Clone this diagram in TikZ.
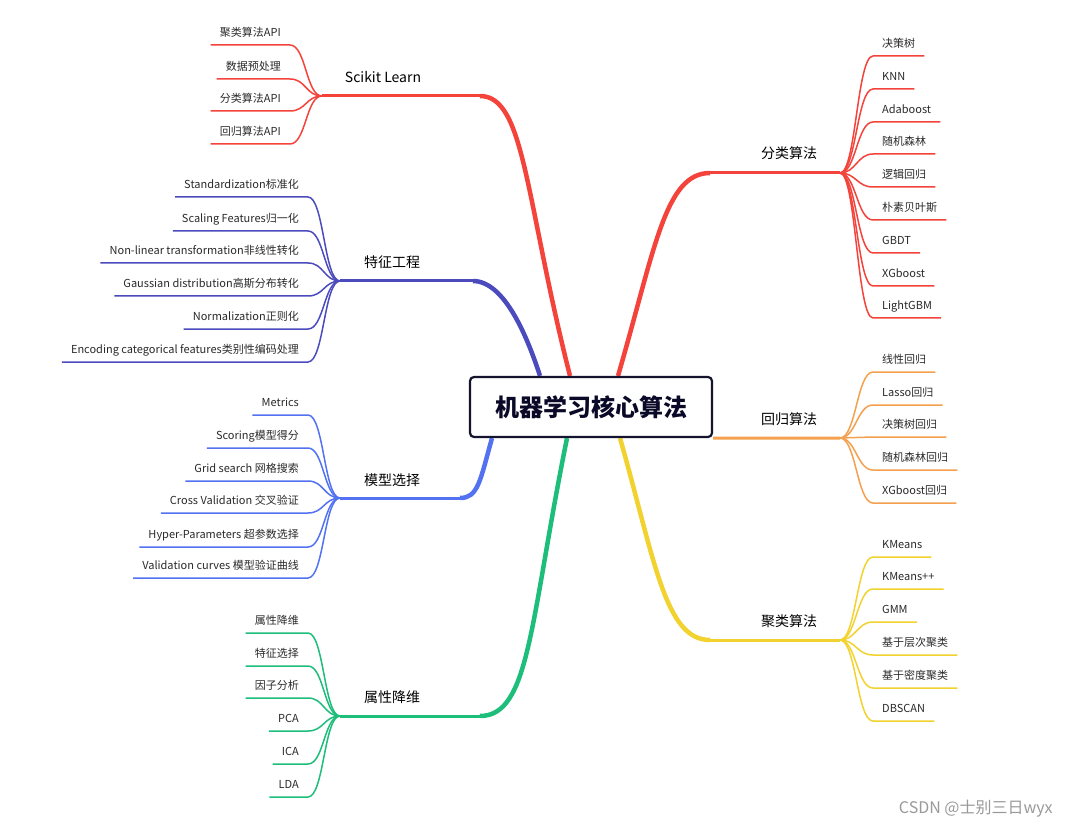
\documentclass[tikz,border=0pt]{standalone}
\usepackage{fontspec}
\setmainfont{Noto Sans CJK SC}
\usetikzlibrary{calc, backgrounds}
\definecolor{rootLine}{HTML}{14142E}
\definecolor{rootText}{HTML}{0A0A28}
\definecolor{leafText}{HTML}{2A2A2A}
\definecolor{redLine}{HTML}{F4433B}
\definecolor{indigoLine}{HTML}{4B4BBE}
\definecolor{blueLine}{HTML}{5272F2}
\definecolor{greenLine}{HTML}{1DBE7A}
\definecolor{orangeLine}{HTML}{F5A04F}
\definecolor{yellowLine}{HTML}{F2D22E}
\definecolor{wmGray}{HTML}{9A9A9A}

\begin{document}
\begin{tikzpicture}[
  x=1pt, y=-1pt,
  font=\fontsize{11pt}{13pt}\selectfont,
  root/.style  ={draw=rootLine, fill=white, line width=2.2pt, rounded corners=4pt,
                 minimum width=242pt, minimum height=60pt, text=rootText,
                 font=\fontsize{24pt}{27pt}\selectfont\bfseries},
  topic/.style ={font=\fontsize{14pt}{16pt}\selectfont, text=black},
  leafL/.style ={anchor=south east, text=leafText, inner xsep=9pt, inner ysep=5.5pt,
                 text height=8pt, text depth=2.5pt},
  leafR/.style ={leafL, anchor=south west},
  trunk/.style ={line width=4.5pt},
  limb/.style  ={line width=3pt},
  twig/.style  ={line width=1.5pt},
]
\useasboundingbox (0,0) rectangle (1069,829);

% ----- Root -----
\node[root] (root) at (591,407) {机器学习核心算法};

% ----- Topic labels and hubs -----
\node[topic] (sk)  at (383,77)  {Scikit Learn};
\node[topic] (fe)  at (392,262) {特征工程};
\node[topic] (ms)  at (392,480) {模型选择};
\node[topic] (dr)  at (392,697) {属性降维};
\node[topic] (cls) at (789,153) {分类算法};
\node[topic] (reg) at (789,419) {回归算法};
\node[topic] (clu) at (789,621) {聚类算法};

\coordinate (skHub)  at (322,96);  \coordinate (skBend)  at (480,96);
\coordinate (feHub)  at (340,281); \coordinate (feBend)  at (473,281);
\coordinate (msHub)  at (340,498); \coordinate (msBend)  at (460,498);
\coordinate (drHub)  at (340,716); \coordinate (drBend)  at (480,716);
\coordinate (clsHub) at (840,173); \coordinate (clsBend) at (710,173);
\coordinate (regHub) at (840,438);
\coordinate (cluHub) at (840,640); \coordinate (cluBend) at (710,640);

% ----- Trunks from the root (behind the box) -----
\begin{scope}[on background layer]
  \fill[white] (0,0) rectangle (1069,829);
  \draw[trunk, draw=redLine]    ($(root.north)+(-21,0)$) .. controls +(-45,-177) and +(45,0) .. (skBend);
  \draw[limb,  draw=redLine]    (skBend) -- (skHub);
  \draw[trunk, draw=indigoLine] ($(root.north)+(-51,0)$) .. controls +(-12,-37) and +(32,0) .. (feBend);
  \draw[limb,  draw=indigoLine] (feBend) -- (feHub);
  \draw[trunk, draw=blueLine]   ($(root.south)+(-99,0)$) .. controls +(-12,43) and +(18,0) .. (msBend);
  \draw[limb,  draw=blueLine]   (msBend) -- (msHub);
  \draw[trunk, draw=greenLine]  ($(root.south)+(-24,0)$) .. controls +(-37,183) and +(50,0) .. (drBend);
  \draw[limb,  draw=greenLine]  (drBend) -- (drHub);
  \draw[trunk, draw=redLine]    ($(root.north)+(27,0)$) .. controls +(37,-127) and +(-45,0) .. (clsBend);
  \draw[limb,  draw=redLine]    (clsBend) -- (clsHub);
  \draw[limb,  draw=orangeLine] (root.south east) -- (regHub);
  \draw[trunk, draw=yellowLine] ($(root.south)+(29,0)$) .. controls +(35,123) and +(-45,0) .. (cluBend);
  \draw[limb,  draw=yellowLine] (cluBend) -- (cluHub);
\end{scope}

% ----- Scikit Learn leaves -----
\node[leafL] (sk1) at (290,45)  {聚类算法API};
\node[leafL] (sk2) at (290,79)  {数据预处理};
\node[leafL] (sk3) at (290,111) {分类算法API};
\node[leafL] (sk4) at (290,144) {回归算法API};
\draw[twig, draw=redLine] (sk1.south west) -- (sk1.south east) .. controls +(16,0) and +(-16,0) .. (skHub);
\draw[twig, draw=redLine] (sk2.south west) -- (sk2.south east) .. controls +(16,0) and +(-16,0) .. (skHub);
\draw[twig, draw=redLine] (sk3.south west) -- (sk3.south east) .. controls +(16,0) and +(-16,0) .. (skHub);
\draw[twig, draw=redLine] (sk4.south west) -- (sk4.south east) .. controls +(16,0) and +(-16,0) .. (skHub);

% ----- 特征工程 leaves -----
\node[leafL] (fe1) at (308,197) {Standardization标准化};
\node[leafL] (fe2) at (308,231) {Scaling Features归一化};
\node[leafL] (fe3) at (308,263) {Non-linear transformation非线性转化};
\node[leafL] (fe4) at (308,296) {Gaussian distribution高斯分布转化};
\node[leafL] (fe5) at (308,329) {Normalization正则化};
\node[leafL] (fe6) at (308,362) {Encoding categorical features类别性编码处理};
\draw[twig, draw=indigoLine] (fe1.south west) -- (fe1.south east) .. controls +(16,0) and +(-16,0) .. (feHub);
\draw[twig, draw=indigoLine] (fe2.south west) -- (fe2.south east) .. controls +(16,0) and +(-16,0) .. (feHub);
\draw[twig, draw=indigoLine] (fe3.south west) -- (fe3.south east) .. controls +(16,0) and +(-16,0) .. (feHub);
\draw[twig, draw=indigoLine] (fe4.south west) -- (fe4.south east) .. controls +(16,0) and +(-16,0) .. (feHub);
\draw[twig, draw=indigoLine] (fe5.south west) -- (fe5.south east) .. controls +(16,0) and +(-16,0) .. (feHub);
\draw[twig, draw=indigoLine] (fe6.south west) -- (fe6.south east) .. controls +(16,0) and +(-16,0) .. (feHub);

% ----- 模型选择 leaves -----
\node[leafL] (ms1) at (308,415) {Metrics};
\node[leafL] (ms2) at (308,448) {Scoring模型得分};
\node[leafL] (ms3) at (308,481) {Grid search 网格搜索};
\node[leafL] (ms4) at (308,513) {Cross Validation 交叉验证};
\node[leafL] (ms5) at (308,547) {Hyper-Parameters 超参数选择};
\node[leafL] (ms6) at (308,578) {Validation curves 模型验证曲线};
\draw[twig, draw=blueLine] (ms1.south west) -- (ms1.south east) .. controls +(16,0) and +(-16,0) .. (msHub);
\draw[twig, draw=blueLine] (ms2.south west) -- (ms2.south east) .. controls +(16,0) and +(-16,0) .. (msHub);
\draw[twig, draw=blueLine] (ms3.south west) -- (ms3.south east) .. controls +(16,0) and +(-16,0) .. (msHub);
\draw[twig, draw=blueLine] (ms4.south west) -- (ms4.south east) .. controls +(16,0) and +(-16,0) .. (msHub);
\draw[twig, draw=blueLine] (ms5.south west) -- (ms5.south east) .. controls +(16,0) and +(-16,0) .. (msHub);
\draw[twig, draw=blueLine] (ms6.south west) -- (ms6.south east) .. controls +(16,0) and +(-16,0) .. (msHub);

% ----- 属性降维 leaves -----
\node[leafL] (dr1) at (308,633) {属性降维};
\node[leafL] (dr2) at (308,666) {特征选择};
\node[leafL] (dr3) at (308,698) {因子分析};
\node[leafL] (dr4) at (308,731) {PCA};
\node[leafL] (dr5) at (308,764) {ICA};
\node[leafL] (dr6) at (308,797) {LDA};
\draw[twig, draw=greenLine] (dr1.south west) -- (dr1.south east) .. controls +(16,0) and +(-16,0) .. (drHub);
\draw[twig, draw=greenLine] (dr2.south west) -- (dr2.south east) .. controls +(16,0) and +(-16,0) .. (drHub);
\draw[twig, draw=greenLine] (dr3.south west) -- (dr3.south east) .. controls +(16,0) and +(-16,0) .. (drHub);
\draw[twig, draw=greenLine] (dr4.south west) -- (dr4.south east) .. controls +(16,0) and +(-16,0) .. (drHub);
\draw[twig, draw=greenLine] (dr5.south west) -- (dr5.south east) .. controls +(16,0) and +(-16,0) .. (drHub);
\draw[twig, draw=greenLine] (dr6.south west) -- (dr6.south east) .. controls +(16,0) and +(-16,0) .. (drHub);

% ----- 分类算法 leaves -----
\node[leafR] (cls1) at (873,56)  {决策树};
\node[leafR] (cls2) at (873,89)  {KNN};
\node[leafR] (cls3) at (873,122) {Adaboost};
\node[leafR] (cls4) at (873,154) {随机森林};
\node[leafR] (cls5) at (873,187) {逻辑回归};
\node[leafR] (cls6) at (873,220) {朴素贝叶斯};
\node[leafR] (cls7) at (873,253) {GBDT};
\node[leafR] (cls8) at (873,286) {XGboost};
\node[leafR] (cls9) at (873,318) {LightGBM};
\draw[twig, draw=redLine] (clsHub) .. controls +(16,0) and +(-16,0) .. (cls1.south west) -- (cls1.south east);
\draw[twig, draw=redLine] (clsHub) .. controls +(16,0) and +(-16,0) .. (cls2.south west) -- (cls2.south east);
\draw[twig, draw=redLine] (clsHub) .. controls +(16,0) and +(-16,0) .. (cls3.south west) -- (cls3.south east);
\draw[twig, draw=redLine] (clsHub) .. controls +(16,0) and +(-16,0) .. (cls4.south west) -- (cls4.south east);
\draw[twig, draw=redLine] (clsHub) .. controls +(16,0) and +(-16,0) .. (cls5.south west) -- (cls5.south east);
\draw[twig, draw=redLine] (clsHub) .. controls +(16,0) and +(-16,0) .. (cls6.south west) -- (cls6.south east);
\draw[twig, draw=redLine] (clsHub) .. controls +(16,0) and +(-16,0) .. (cls7.south west) -- (cls7.south east);
\draw[twig, draw=redLine] (clsHub) .. controls +(16,0) and +(-16,0) .. (cls8.south west) -- (cls8.south east);
\draw[twig, draw=redLine] (clsHub) .. controls +(16,0) and +(-16,0) .. (cls9.south west) -- (cls9.south east);

% ----- 回归算法 leaves -----
\node[leafR] (reg1) at (873,372) {线性回归};
\node[leafR] (reg2) at (873,405) {Lasso回归};
\node[leafR] (reg3) at (873,437) {决策树回归};
\node[leafR] (reg4) at (873,470) {随机森林回归};
\node[leafR] (reg5) at (873,503) {XGboost回归};
\draw[twig, draw=orangeLine] (regHub) .. controls +(16,0) and +(-16,0) .. (reg1.south west) -- (reg1.south east);
\draw[twig, draw=orangeLine] (regHub) .. controls +(16,0) and +(-16,0) .. (reg2.south west) -- (reg2.south east);
\draw[twig, draw=orangeLine] (regHub) .. controls +(16,0) and +(-16,0) .. (reg3.south west) -- (reg3.south east);
\draw[twig, draw=orangeLine] (regHub) .. controls +(16,0) and +(-16,0) .. (reg4.south west) -- (reg4.south east);
\draw[twig, draw=orangeLine] (regHub) .. controls +(16,0) and +(-16,0) .. (reg5.south west) -- (reg5.south east);

% ----- 聚类算法 leaves -----
\node[leafR] (clu1) at (873,557) {KMeans};
\node[leafR] (clu2) at (873,589) {KMeans++};
\node[leafR] (clu3) at (873,622) {GMM};
\node[leafR] (clu4) at (873,655) {基于层次聚类};
\node[leafR] (clu5) at (873,688) {基于密度聚类};
\node[leafR] (clu6) at (873,721) {DBSCAN};
\draw[twig, draw=yellowLine] (cluHub) .. controls +(16,0) and +(-16,0) .. (clu1.south west) -- (clu1.south east);
\draw[twig, draw=yellowLine] (cluHub) .. controls +(16,0) and +(-16,0) .. (clu2.south west) -- (clu2.south east);
\draw[twig, draw=yellowLine] (cluHub) .. controls +(16,0) and +(-16,0) .. (clu3.south west) -- (clu3.south east);
\draw[twig, draw=yellowLine] (cluHub) .. controls +(16,0) and +(-16,0) .. (clu4.south west) -- (clu4.south east);
\draw[twig, draw=yellowLine] (cluHub) .. controls +(16,0) and +(-16,0) .. (clu5.south west) -- (clu5.south east);
\draw[twig, draw=yellowLine] (cluHub) .. controls +(16,0) and +(-16,0) .. (clu6.south west) -- (clu6.south east);

% ----- Watermark -----
\node[font=\fontsize{16pt}{18pt}\selectfont, text=wmGray, anchor=east] (wm) at (1056,809) {CSDN @士别三日wyx};

\end{tikzpicture}
\end{document}
